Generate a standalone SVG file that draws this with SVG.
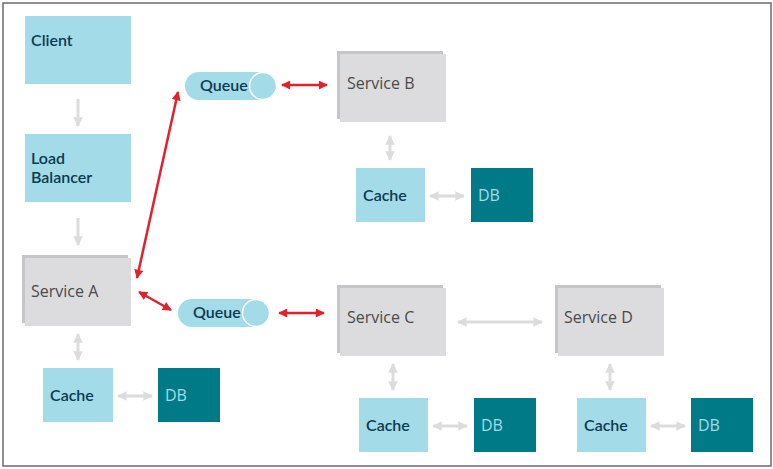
<svg xmlns="http://www.w3.org/2000/svg" width="773" height="469" viewBox="0 0 773 469">
<defs>
<style>
.cy{fill:#a3dbe8}
.sv{fill:#dcdcde}
.sh{fill:#c6c6c8}
.db{fill:#007a87}
.t{font-family:"Open Sans","Liberation Sans",sans-serif;font-size:16px}
.dk{fill:#0b3a52;font-family:Lato,"Open Sans",sans-serif;font-weight:600;font-size:16px}
.gt{fill:#4a4a4a}
.lt{fill:#a3dbe8}
.ga{stroke:#dcdcdc;stroke-width:3;fill:none}
.ra{stroke:#e4212b;stroke-width:2.5;fill:none}
</style>
<marker id="gh" viewBox="0 0 10 10" refX="9" refY="5" markerWidth="3.2" markerHeight="3.2" orient="auto-start-reverse" markerUnits="strokeWidth"><path d="M0,0 L10,5 L0,10 z" fill="#dcdcdc"/></marker>
<marker id="rh" viewBox="0 0 10 10" refX="9" refY="5" markerWidth="4" markerHeight="3.6" orient="auto-start-reverse" markerUnits="strokeWidth"><path d="M0,0 L10,5 L0,10 z" fill="#e4212b"/></marker>
</defs>
<rect x="3" y="3" width="768" height="463" fill="#fff" stroke="#6a6a6a" stroke-width="1.5"/>
<g id="connectors">
<line class="ga" x1="78" y1="99" x2="78" y2="126" marker-end="url(#gh)"/>
<line class="ga" x1="78" y1="218" x2="78" y2="245" marker-end="url(#gh)"/>
<line class="ga" x1="78" y1="334" x2="78" y2="360" marker-start="url(#gh)" marker-end="url(#gh)"/>
<line class="ga" x1="118" y1="396" x2="152" y2="396" marker-start="url(#gh)" marker-end="url(#gh)"/>
<line class="ga" x1="390" y1="136" x2="390" y2="160" marker-start="url(#gh)" marker-end="url(#gh)"/>
<line class="ga" x1="430" y1="196" x2="464" y2="196" marker-start="url(#gh)" marker-end="url(#gh)"/>
<line class="ga" x1="458" y1="322" x2="542" y2="322" marker-start="url(#gh)" marker-end="url(#gh)"/>
<line class="ga" x1="393" y1="364" x2="393" y2="390" marker-start="url(#gh)" marker-end="url(#gh)"/>
<line class="ga" x1="433" y1="426" x2="467" y2="426" marker-start="url(#gh)" marker-end="url(#gh)"/>
<line class="ga" x1="610" y1="364" x2="610" y2="390" marker-start="url(#gh)" marker-end="url(#gh)"/>
<line class="ga" x1="651" y1="426" x2="685" y2="426" marker-start="url(#gh)" marker-end="url(#gh)"/>
<line class="ra" x1="137" y1="278" x2="178" y2="92" marker-start="url(#rh)" marker-end="url(#rh)"/>
<line class="ra" x1="139" y1="292" x2="171" y2="310" marker-start="url(#rh)" marker-end="url(#rh)"/>
<line class="ra" x1="282" y1="85" x2="327" y2="85" marker-start="url(#rh)" marker-end="url(#rh)"/>
<line class="ra" x1="279" y1="313" x2="324" y2="313" marker-start="url(#rh)" marker-end="url(#rh)"/>
</g>
<g id="client"><rect class="cy" x="25" y="16" width="106" height="68"/><text class="t dk" x="31" y="46">Client</text></g>
<g id="lb"><rect class="cy" x="25" y="134" width="106" height="68"/><text class="t dk" x="31" y="164">Load</text><text class="t dk" x="31" y="183">Balancer</text></g>
<g id="serviceA"><rect class="sh" x="22" y="255" width="106" height="68"/><rect class="sv" x="25" y="258" width="106" height="68"/><text class="t gt" x="31" y="297">Service A</text></g>
<g id="cacheA"><rect class="cy" x="43" y="368" width="70" height="54"/><text class="t dk" x="50" y="401">Cache</text></g>
<g id="dbA"><rect class="db" x="158" y="368" width="62" height="54"/><text class="t lt" x="165" y="401">DB</text></g>
<g id="queue1"><rect class="cy" x="185" y="72" width="92" height="28" rx="14"/><circle class="cy" cx="263" cy="86" r="13.5" stroke="#fff" stroke-width="1.5"/><text class="t dk" x="200" y="91">Queue</text></g>
<g id="queue2"><rect class="cy" x="178" y="299" width="92" height="28" rx="14"/><circle class="cy" cx="256" cy="313" r="13.5" stroke="#fff" stroke-width="1.5"/><text class="t dk" x="193" y="318">Queue</text></g>
<g id="serviceB"><rect class="sh" x="337" y="51" width="106" height="68"/><rect class="sv" x="340" y="54" width="106" height="68"/><text class="t gt" x="347" y="89">Service B</text></g>
<g id="cacheB"><rect class="cy" x="356" y="168" width="69" height="54"/><text class="t dk" x="363" y="201">Cache</text></g>
<g id="dbB"><rect class="db" x="471" y="168" width="62" height="54"/><text class="t lt" x="478" y="201">DB</text></g>
<g id="serviceC"><rect class="sh" x="337" y="285" width="106" height="68"/><rect class="sv" x="340" y="288" width="106" height="68"/><text class="t gt" x="347" y="323">Service C</text></g>
<g id="cacheC"><rect class="cy" x="359" y="398" width="69" height="54"/><text class="t dk" x="366" y="431">Cache</text></g>
<g id="dbC"><rect class="db" x="474" y="398" width="62" height="54"/><text class="t lt" x="481" y="431">DB</text></g>
<g id="serviceD"><rect class="sh" x="555" y="285" width="106" height="68"/><rect class="sv" x="558" y="288" width="106" height="68"/><text class="t gt" x="564" y="323">Service D</text></g>
<g id="cacheD"><rect class="cy" x="577" y="398" width="69" height="54"/><text class="t dk" x="584" y="431">Cache</text></g>
<g id="dbD"><rect class="db" x="691" y="398" width="62" height="54"/><text class="t lt" x="698" y="431">DB</text></g>
</svg>
